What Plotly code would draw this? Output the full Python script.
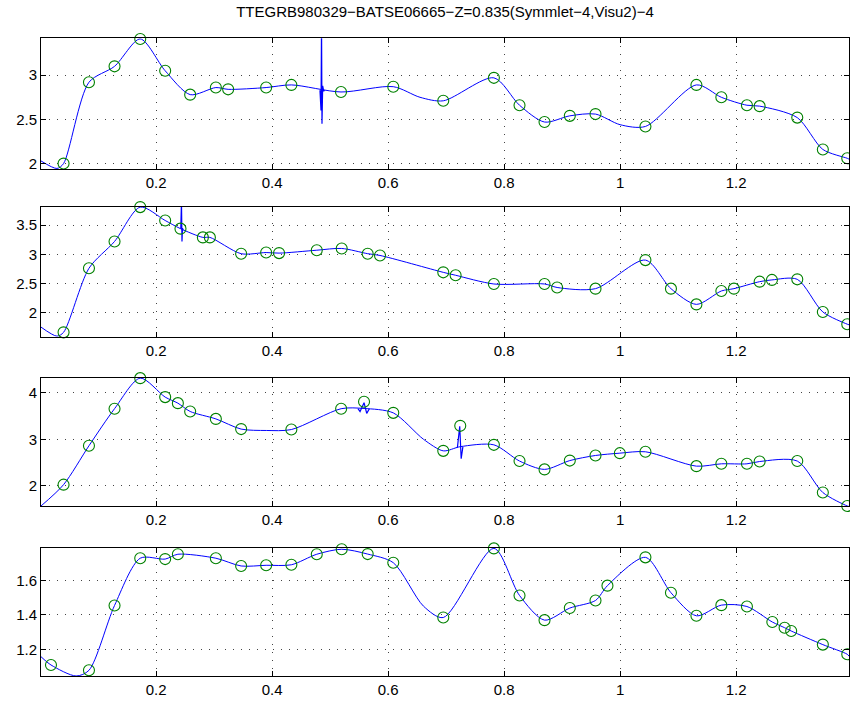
import plotly.graph_objects as go

TITLE = "TTEGRB980329\u2212BATSE06665\u2212Z=0.835(Symmlet\u22124,Visu2)\u22124"

# ---------------- Panel 1 ----------------
p1_mx = [0.0404, 0.0842, 0.1283, 0.1726, 0.2156, 0.2587, 0.3030, 0.3242, 0.3897, 0.4332,
         0.5188, 0.6089, 0.6951, 0.7824, 0.8266, 0.8697, 0.9133, 0.9576, 1.0437, 1.1316,
         1.1746, 1.2187, 1.2406, 1.3055, 1.3496, 1.3917]
p1_my = [2.00, 2.92, 3.10, 3.41, 3.05, 2.78, 2.86, 2.84, 2.86, 2.89,
         2.81, 2.87, 2.71, 2.97, 2.66, 2.47, 2.54, 2.56, 2.42, 2.89,
         2.75, 2.66, 2.65, 2.52, 2.16, 2.06]
p1_cx = [0.0015, 0.029, 0.0404, 0.0842, 0.1283, 0.1726, 0.2156, 0.2587, 0.3030, 0.3242,
         0.3897, 0.4332, 0.5188, 0.6089, 0.655, 0.6951, 0.7824, 0.8266, 0.8697, 0.9133,
         0.9576, 1.000, 1.0437, 1.1316, 1.1746, 1.2187, 1.2406, 1.3055, 1.3496, 1.3917, 1.3947]
p1_cy = [2.03, 1.945, 2.00, 2.92, 3.10, 3.41, 3.05, 2.78, 2.86, 2.84,
         2.86, 2.89, 2.81, 2.87, 2.75, 2.71, 2.97, 2.66, 2.47, 2.54,
         2.56, 2.44, 2.42, 2.89, 2.75, 2.66, 2.65, 2.52, 2.16, 2.06, 2.05]
p1_sx = [0.4825, 0.4843, 0.4852, 0.4860, 0.4872, 0.4890, 0.4905]
p1_sy = [2.83, 2.60, 3.60, 2.45, 2.88, 2.82, 2.83]

# ---------------- Panel 2 ----------------
p2_mx = [0.0404, 0.0842, 0.1283, 0.1726, 0.2156, 0.2420, 0.2806, 0.2927, 0.3466, 0.3897,
         0.4120, 0.4770, 0.5200, 0.5648, 0.5860, 0.6951, 0.7164, 0.7824, 0.8697, 0.8914,
         0.9576, 1.0437, 1.0877, 1.1316, 1.1746, 1.1963, 1.2406, 1.2618, 1.3055, 1.3496,
         1.3917]
p2_my = [1.66, 2.76, 3.22, 3.81, 3.58, 3.44, 3.29, 3.29, 3.01, 3.03,
         3.02, 3.07, 3.10, 3.01, 2.98, 2.69, 2.64, 2.49, 2.49, 2.43,
         2.41, 2.90, 2.41, 2.14, 2.37, 2.41, 2.53, 2.56, 2.57, 2.01,
         1.80]
p2_cx = [0.0015, 0.029] + p2_mx + [1.3947]
p2_cy = [1.75, 1.595] + p2_my + [1.79]
p2_sx = [0.2425, 0.2437, 0.2446, 0.2455, 0.2465]
p2_sy = [3.44, 3.90, 3.22, 3.45, 3.41]

# ---------------- Panel 3 ----------------
p3_mx = [0.0404, 0.0842, 0.1283, 0.1726, 0.2156, 0.2375, 0.2587, 0.3030, 0.3466, 0.4332,
         0.5190, 0.5585, 0.6089, 0.6951, 0.7244, 0.7824, 0.8266, 0.8697, 0.9133, 0.9576,
         0.9996, 1.0437, 1.1316, 1.1746, 1.2187, 1.2406, 1.3055, 1.3496, 1.3917]
p3_my = [2.02, 2.86, 3.66, 4.32, 3.91, 3.78, 3.60, 3.44, 3.22, 3.21,
         3.66, 3.81, 3.57, 2.75, 3.29, 2.88, 2.53, 2.35, 2.54, 2.65,
         2.70, 2.73, 2.42, 2.47, 2.47, 2.52, 2.53, 1.85, 1.56]
p3_cx = [0.0015, 0.0404, 0.0842, 0.1283, 0.1726, 0.2156, 0.2375, 0.2587, 0.3030, 0.3466,
         0.3900, 0.4332, 0.5190, 0.5585, 0.6089, 0.6610, 0.6951, 0.7244, 0.7824, 0.8266,
         0.8697, 0.9133, 0.9576, 0.9996, 1.0437, 1.1316, 1.1746, 1.2187, 1.2406, 1.3055,
         1.3496, 1.3917, 1.3947]
p3_cy = [1.56, 2.02, 2.86, 3.66, 4.32, 3.91, 3.78, 3.60, 3.44, 3.22,
         3.19, 3.21, 3.66, 3.665, 3.57, 3.00, 2.75, 2.84, 2.88, 2.53,
         2.35, 2.54, 2.65, 2.70, 2.73, 2.42, 2.47, 2.47, 2.52, 2.53,
         1.85, 1.56, 1.55]
p3_sax = [0.5480, 0.5516, 0.5585, 0.5631, 0.5677]
p3_say = [3.66, 3.60, 3.79, 3.56, 3.66]
p3_sbx = [0.7195, 0.7235, 0.7260, 0.7290]
p3_sby = [2.82, 3.28, 2.58, 2.84]

# ---------------- Panel 4 ----------------
p4_mx = [0.0187, 0.0842, 0.1283, 0.1726, 0.2156, 0.2375, 0.3030, 0.3466, 0.3897, 0.4332,
         0.4770, 0.5200, 0.5648, 0.6089, 0.6951, 0.7824, 0.8266, 0.8697, 0.9133, 0.9576,
         0.9782, 1.0437, 1.0877, 1.1316, 1.1746, 1.2187, 1.2625, 1.2837, 1.2950, 1.3496,
         1.3917]
p4_my = [1.109, 1.078, 1.454, 1.728, 1.723, 1.751, 1.728, 1.683, 1.687, 1.690,
         1.751, 1.780, 1.752, 1.702, 1.384, 1.785, 1.512, 1.369, 1.439, 1.483,
         1.569, 1.733, 1.528, 1.394, 1.456, 1.448, 1.358, 1.325, 1.306, 1.227,
         1.171]
p4_cx = [0.0015, 0.0187, 0.062, 0.0842, 0.1283, 0.1726, 0.2156, 0.2375, 0.3030, 0.3466,
         0.3897, 0.4332, 0.4770, 0.5200, 0.5648, 0.6089, 0.6610, 0.6951, 0.7824, 0.8266,
         0.8697, 0.9133, 0.9576, 0.9782, 1.0437, 1.0877, 1.1316, 1.1746, 1.2187, 1.2625,
         1.2837, 1.2950, 1.3496, 1.3917, 1.3947]
p4_cy = [1.157, 1.109, 1.045, 1.078, 1.454, 1.728, 1.723, 1.751, 1.728, 1.683,
         1.687, 1.690, 1.751, 1.780, 1.752, 1.702, 1.450, 1.384, 1.785, 1.512,
         1.369, 1.439, 1.483, 1.569, 1.733, 1.528, 1.394, 1.456, 1.448, 1.358,
         1.325, 1.306, 1.227, 1.171, 1.160]

x_range = [0.0015, 1.3947]
x_ticks = [0.2, 0.4, 0.6, 0.8, 1.0, 1.2]
x_labels = ["0.2", "0.4", "0.6", "0.8", "1", "1.2"]

y_ranges = [[1.939, 3.417], [1.585, 3.817], [1.56, 4.33], [1.045, 1.789]]
y_ticks = [[2, 2.5, 3], [2, 2.5, 3, 3.5], [2, 3, 4], [1.2, 1.4, 1.6]]
y_labels = [["2", "2.5", "3"], ["2", "2.5", "3", "3.5"], ["2", "3", "4"], ["1.2", "1.4", "1.6"]]
domains = [[0.7947, 0.9995], [0.5318, 0.7356], [0.2665, 0.4676], [0.0, 0.2011]]

LINE_C = "#0000FF"
MARK_C = "#008000"
FONT = "Liberation Sans, Arial, Helvetica, sans-serif"

curves = [(p1_cx, p1_cy), (p2_cx, p2_cy), (p3_cx, p3_cy), (p4_cx, p4_cy)]
markers = [(p1_mx, p1_my), (p2_mx, p2_my), (p3_mx, p3_my), (p4_mx, p4_my)]
spikes = [[(p1_sx, p1_sy)], [(p2_sx, p2_sy)], [(p3_sax, p3_say), (p3_sbx, p3_sby)], []]

fig = go.Figure()
for i in range(4):
    xa = "x" if i == 0 else f"x{i+1}"
    ya = "y" if i == 0 else f"y{i+1}"
    cx, cy = curves[i]
    fig.add_trace(go.Scatter(x=cx, y=cy, mode="lines", xaxis=xa, yaxis=ya,
                             line=dict(color=LINE_C, width=1, shape="spline", smoothing=0.8),
                             showlegend=False, hoverinfo="skip"))
    for sx, sy in spikes[i]:
        fig.add_trace(go.Scatter(x=sx, y=sy, mode="lines", xaxis=xa, yaxis=ya,
                                 line=dict(color=LINE_C, width=1.2),
                                 showlegend=False, hoverinfo="skip"))
    mx, my = markers[i]
    fig.add_trace(go.Scatter(x=mx, y=my, mode="markers", xaxis=xa, yaxis=ya,
                             marker=dict(symbol="circle-open", size=11, color=MARK_C,
                                         line=dict(width=1.1, color=MARK_C)),
                             cliponaxis=False, showlegend=False))

layout = dict(
    width=850, height=702,
    margin=dict(l=41, r=1, t=38, b=26),
    paper_bgcolor="white", plot_bgcolor="white",
    font=dict(family=FONT, size=15, color="black"),
    title=dict(text=TITLE, x=0.5, xref="paper", xanchor="center",
               y=1 - 12 / 702, yref="container", yanchor="middle",
               font=dict(family=FONT, size=15, color="black")),
)
for i in range(4):
    xk = "xaxis" if i == 0 else f"xaxis{i+1}"
    yk = "yaxis" if i == 0 else f"yaxis{i+1}"
    ya_anchor = "y" if i == 0 else f"y{i+1}"
    xa_anchor = "x" if i == 0 else f"x{i+1}"
    grid = dict(showgrid=True, gridcolor="#444444", griddash="1px,7px", gridwidth=1)
    layout[xk] = dict(domain=[0, 1], anchor=ya_anchor, range=x_range,
                      tickvals=x_ticks, ticktext=x_labels,
                      showline=True, linecolor="black", linewidth=1, mirror="ticks",
                      ticks="inside", ticklen=5, tickcolor="black",
                      zeroline=False, fixedrange=True, **grid)
    layout[yk] = dict(domain=domains[i], anchor=xa_anchor, range=y_ranges[i],
                      tickvals=y_ticks[i], ticktext=y_labels[i],
                      showline=True, linecolor="black", linewidth=1, mirror="ticks",
                      ticks="inside", ticklen=5, tickcolor="black",
                      zeroline=False, fixedrange=True, **grid)
fig.update_layout(**layout)

fig.write_html("out.html")
